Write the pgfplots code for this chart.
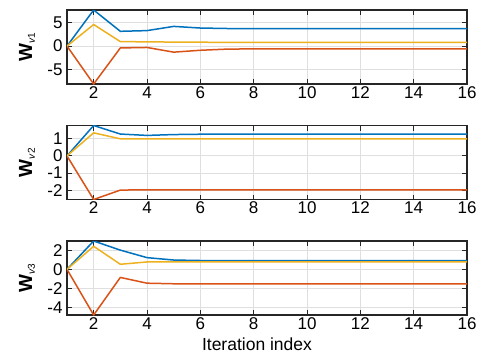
\documentclass[border=0pt]{standalone}
\usepackage{pgfplots}
\pgfplotsset{compat=1.18}
\usepackage{fontspec}
\setmainfont{Liberation Sans}
\definecolor{mblue}{rgb}{0,0.447,0.741}
\definecolor{mred}{rgb}{0.85,0.325,0.098}
\definecolor{myellow}{rgb}{0.929,0.694,0.125}
\definecolor{axgray}{rgb}{0.15,0.15,0.15}
\pgfplotsset{
  myax/.style={
    scale only axis, width=400pt, height=74pt,
    xmin=1, xmax=16, xtick={2,4,...,16},
    axis line style={axgray, line width=1.3pt},
    tick style={axgray, line width=1pt},
    major tick length=5pt,
    tick align=inside,
    xtick pos=both, ytick pos=both,
    xticklabel pos=lower, yticklabel pos=left,
    grid=major,
    major grid style={gray!25, line width=1pt},
    tick label style={font=\fontsize{17}{19}\selectfont, text=black},
    /pgf/number format/assume math mode=true,
    yticklabel style={xshift=-1pt},
    xticklabel style={yshift=1pt},
    ylabel style={at={(axis description cs:-0.1,0.5)}, anchor=center, font=\fontsize{19}{21}\selectfont},
    every axis plot/.append style={line width=1.5pt, line join=round, mark=none},
  }
}
\begin{document}
\begin{tikzpicture}
\begin{axis}[myax, at={(0,0)}, anchor=north west,
  ymin=-8.1, ymax=7.7, ytick={-5,0,5},
  ylabel={\textbf{W}\textsubscript{\fontsize{10}{11}\selectfont\textit{v}1}}]
\addplot[mblue] coordinates {(1,0)(2,7.7)(3,3.15)(4,3.3)(5,4.2)(6,3.85)(7,3.75)(8,3.7)(9,3.7)(10,3.7)(11,3.7)(12,3.7)(13,3.7)(14,3.7)(15,3.7)(16,3.7)};
\addplot[mred] coordinates {(1,0)(2,-8.1)(3,-0.4)(4,-0.3)(5,-1.3)(6,-0.9)(7,-0.65)(8,-0.6)(9,-0.6)(10,-0.6)(11,-0.6)(12,-0.6)(13,-0.6)(14,-0.6)(15,-0.6)(16,-0.6)};
\addplot[myellow] coordinates {(1,0)(2,4.6)(3,0.95)(4,0.9)(5,0.85)(6,0.82)(7,0.8)(8,0.8)(9,0.8)(10,0.8)(11,0.8)(12,0.8)(13,0.8)(14,0.8)(15,0.8)(16,0.8)};
\end{axis}
\begin{axis}[myax, at={(0,-115.5pt)}, anchor=north west,
  ymin=-2.55, ymax=1.78, ytick={-2,-1,0,1},
  ylabel={\textbf{W}\textsubscript{\fontsize{10}{11}\selectfont\textit{v}2}}]
\addplot[mblue] coordinates {(1,0)(2,1.78)(3,1.28)(4,1.2)(5,1.25)(6,1.27)(7,1.27)(8,1.27)(9,1.27)(10,1.27)(11,1.27)(12,1.27)(13,1.27)(14,1.27)(15,1.27)(16,1.27)};
\addplot[mred] coordinates {(1,0)(2,-2.55)(3,-2.0)(4,-1.98)(5,-1.98)(6,-1.98)(7,-1.98)(8,-1.98)(9,-1.98)(10,-1.98)(11,-1.98)(12,-1.98)(13,-1.98)(14,-1.98)(15,-1.98)(16,-1.98)};
\addplot[myellow] coordinates {(1,0)(2,1.35)(3,1.0)(4,1.0)(5,1.0)(6,1.0)(7,1.0)(8,1.0)(9,1.0)(10,1.0)(11,1.0)(12,1.0)(13,1.0)(14,1.0)(15,1.0)(16,1.0)};
\end{axis}
\begin{axis}[myax, at={(0,-231pt)}, anchor=north west,
  ymin=-4.75, ymax=2.95, ytick={-4,-2,0,2},
  ylabel={\textbf{W}\textsubscript{\fontsize{10}{11}\selectfont\textit{v}3}},
  xlabel={Iteration index},
  xlabel style={at={(axis description cs:0.475,0)}, anchor=north, yshift=-19pt, font=\fontsize{17.5}{19}\selectfont}]
\addplot[mblue] coordinates {(1,0)(2,2.95)(3,2.0)(4,1.22)(5,0.97)(6,0.92)(7,0.91)(8,0.91)(9,0.91)(10,0.91)(11,0.91)(12,0.91)(13,0.91)(14,0.91)(15,0.91)(16,0.91)};
\addplot[mred] coordinates {(1,0)(2,-4.75)(3,-0.84)(4,-1.44)(5,-1.5)(6,-1.5)(7,-1.5)(8,-1.5)(9,-1.5)(10,-1.5)(11,-1.5)(12,-1.5)(13,-1.5)(14,-1.5)(15,-1.5)(16,-1.5)};
\addplot[myellow] coordinates {(1,0)(2,2.4)(3,0.53)(4,0.77)(5,0.77)(6,0.77)(7,0.77)(8,0.77)(9,0.77)(10,0.77)(11,0.77)(12,0.77)(13,0.77)(14,0.77)(15,0.77)(16,0.77)};
\end{axis}
\pgfresetboundingbox
\path[use as bounding box] (-67pt,10pt) rectangle (414pt,-346pt);
\end{tikzpicture}
\end{document}
